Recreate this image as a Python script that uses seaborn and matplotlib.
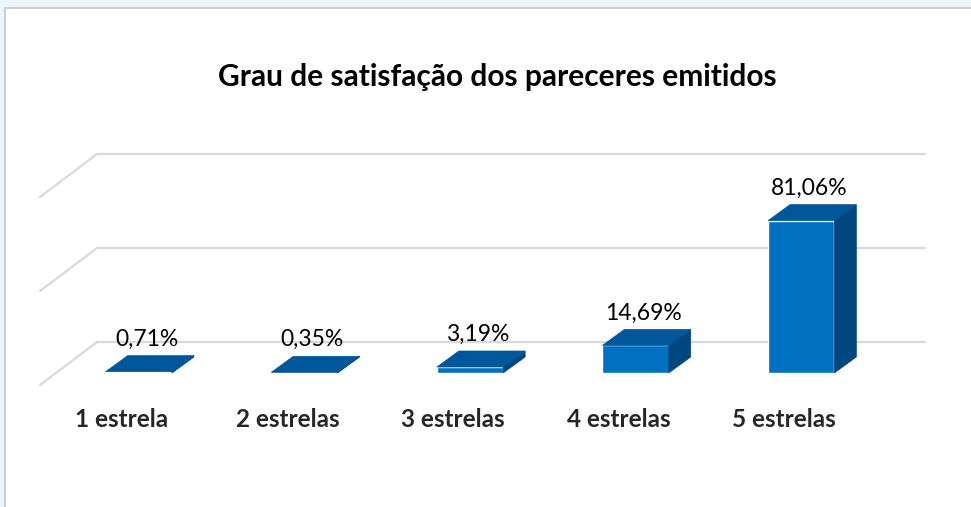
import numpy as np
import matplotlib
matplotlib.use('Agg')
import matplotlib.pyplot as plt
import matplotlib.transforms as mtransforms
from matplotlib.patches import Polygon, Rectangle
import seaborn as sns

# Data
categorias = ['1 estrela', '2 estrelas', '3 estrelas', '4 estrelas', '5 estrelas']
valores = [0.71, 0.35, 3.19, 14.69, 81.06]
rotulos = ['0,71%', '0,35%', '3,19%', '14,69%', '81,06%']
grade = [0, 50, 100]

sns.set_style('white')
plt.rcParams['font.family'] = ['Lato', 'DejaVu Sans']

front_c = '#0070C0'
top_c = '#00569A'
side_c = '#00467F'
grid_c = '#D9D9D9'

W, H = 971, 507
fig = plt.figure(figsize=(W / 100, H / 100), dpi=100, facecolor='#EBF5FC')

# white chart panel with gray border
fig.patches.append(Rectangle((5 / W, -0.02), 1.0, (H - 8) / H + 0.02, transform=fig.transFigure,
                             facecolor='white', edgecolor='#CFCFCF', lw=1.5, zorder=-5))

# front plane of the bars in pixels: x 56..884, y 373 (0%) .. 185 (100%)
ax = fig.add_axes([56 / W, (H - 373) / H, 828 / W, 188 / H])
ax.set_facecolor('none')
ax.set_zorder(2)

sns.barplot(x=categorias, y=valores, color=front_c, saturation=1, width=0.4, ax=ax, zorder=3)
ax.set_xlim(-0.5, 4.5)
ax.set_ylim(0, 100)

to_disp = ax.transData.transform
to_data = ax.transData.inverted().transform


def shift(x, y, dx, dy):
    px, py = to_disp((x, y))
    return to_data((px + dx, py + dy))


# 3D walls: back wall offset and left wall front edge (pixels)
back = (41, 31)
front = (-16, -12)
x0, x1 = ax.get_xlim()
for g in grade:
    a = shift(x0, g, *back)
    b = shift(x1, g, *back)
    c = shift(x0, g, *front)
    ax.plot([a[0], b[0]], [a[1], b[1]], color=grid_c, lw=1.6, clip_on=False, zorder=1)
    ax.plot([c[0], a[0]], [c[1], a[1]], color=grid_c, lw=1.6, clip_on=False, zorder=1)

# bar depth
ddx, ddy = 22, 16
for p, lab in zip(list(ax.patches), rotulos):
    bx0 = p.get_x()
    bx1 = bx0 + p.get_width()
    h = p.get_height()
    top = [(bx0, h), (bx1, h), tuple(shift(bx1, h, ddx, ddy)), tuple(shift(bx0, h, ddx, ddy))]
    side = [(bx1, 0), (bx1, h), tuple(shift(bx1, h, ddx, ddy)), tuple(shift(bx1, 0, ddx, ddy))]
    ax.add_patch(Polygon(side, closed=True, facecolor=side_c, edgecolor=side_c, lw=0.5,
                         clip_on=False, zorder=4))
    ax.add_patch(Polygon(top, closed=True, facecolor=top_c, edgecolor=top_c, lw=0.5,
                         clip_on=False, zorder=4))
    ax.annotate(lab, (bx0 + p.get_width() / 2, h), xytext=(8, 26), textcoords='offset pixels',
                ha='center', va='baseline', fontsize=16.5, color='black', zorder=5)

for s in ax.spines.values():
    s.set_visible(False)
ax.set_yticks([])
ax.set_xlabel('')
ax.set_ylabel('')
ax.tick_params(axis='x', length=0, pad=54 * 0.72)
for t in ax.get_xticklabels():
    t.set_fontweight('bold')
    t.set_fontsize(17.5)
    t.set_va('baseline')
    t.set_transform(t.get_transform() + mtransforms.ScaledTranslation(-17 / 100, 0, fig.dpi_scale_trans))

fig.text(497 / W, 1 - 77 / H, 'Grau de satisfação dos pareceres emitidos', ha='center', va='center',
         fontsize=21.5, fontweight='bold', color='black')

fig.savefig('out.png', dpi=100, facecolor=fig.get_facecolor())
